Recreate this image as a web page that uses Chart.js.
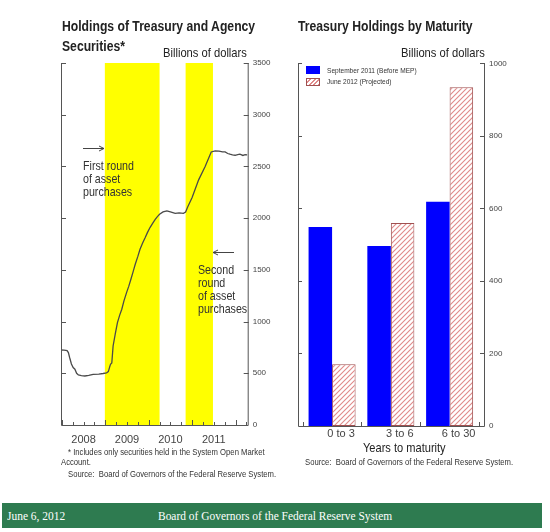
<!DOCTYPE html>
<html>
<head>
<meta charset="utf-8">
<script src="https://cdn.jsdelivr.net/npm/chart.js@4/dist/chart.umd.min.js"></script>
<style>
  html, body { margin:0; padding:0; background:#ffffff; }
  body { width:550px; height:532px; position:relative; overflow:hidden;
         font-family:"Liberation Sans",Arial,sans-serif; color:#222; }
  .abs { position:absolute; white-space:nowrap; }
  .nar { transform:scaleX(0.82); transform-origin:0 0; }
  .title { font-weight:bold; font-size:14px; line-height:16px; color:#222; transform:scaleX(0.87); transform-origin:0 0; }
  .unit { font-size:13px; line-height:14px; color:#222; transform:scaleX(0.86); transform-origin:0 0; }
  .note { font-size:13px; line-height:13px; color:#333; }
  .small { font-size:9.4px; line-height:11px; color:#333; }
  .leg { font-size:8px; line-height:9px; color:#333; }
  #c1wrap { position:absolute; left:0; top:0; width:280px; height:480px; }
  #c2wrap { position:absolute; left:280px; top:0; width:270px; height:480px; }
  #footer { position:absolute; left:2px; top:503px; width:540px; height:25px; background:#2e7b50;
            font-family:"Liberation Serif","Times New Roman",serif; color:#fff; font-size:13px; font-weight:normal; }
  #footer .abs { transform:scaleX(0.88); transform-origin:0 0; line-height:15px; }
</style>
</head>
<body>
<div id="c1wrap"><canvas id="c1"></canvas></div>
<div id="c2wrap"><canvas id="c2"></canvas></div>

<div class="abs title" style="left:62px;top:18px;">Holdings of Treasury and Agency</div>
<div class="abs title" style="left:62px;top:38px;">Securities*</div>
<div class="abs unit" style="left:163px;top:46px;">Billions of dollars</div>

<div class="abs title" style="left:298px;top:18px;">Treasury Holdings by Maturity</div>
<div class="abs unit" style="left:400.5px;top:46px;">Billions of dollars</div>

<div class="abs note nar" style="left:83px;top:159px;">First round<br>of asset<br>purchases</div>
<div class="abs note nar" style="left:198px;top:263px;">Second<br>round<br>of asset<br>purchases</div>

<svg class="abs" style="left:0;top:0;" width="550" height="480">
  <g stroke="#444" stroke-width="1" fill="none">
    <line x1="83" y1="148.5" x2="104" y2="148.5"/>
    <polyline points="99,146 104,148.5 99,151"/>
    <line x1="213" y1="252.5" x2="234" y2="252.5"/>
    <polyline points="218,250 213,252.5 218,255"/>
  </g>
</svg>

<div class="abs" style="left:306px;top:66px;width:14px;height:8px;background:#0000ff;"></div>
<div class="abs leg nar" style="left:326.5px;top:65.5px;">September 2011 (Before MEP)</div>
<div class="abs" style="left:306px;top:77.5px;width:12px;height:6px;border:1px solid #a05050;background:repeating-linear-gradient(135deg,#ffffff 0 2px,#e08a8a 2px 3.2px);"></div>
<div class="abs leg nar" style="left:326.5px;top:77px;">June 2012 (Projected)</div>

<div class="abs small nar" style="left:68px;top:445.5px;">* Includes only securities held in the System Open Market</div>
<div class="abs small nar" style="left:61px;top:456px;">Account.</div>
<div class="abs small nar" style="left:68px;top:468px;">Source:&nbsp; Board of Governors of the Federal Reserve System.</div>

<div class="abs nar" style="left:362.5px;top:440px;font-size:13.5px;line-height:16px;color:#222;">Years to maturity</div>
<div class="abs small nar" style="left:305px;top:456px;">Source:&nbsp; Board of Governors of the Federal Reserve System.</div>

<div id="footer">
  <span class="abs" style="left:5px;top:5px;">June 6, 2012</span>
  <span class="abs" style="left:156px;top:5px;">Board of Governors of the Federal Reserve System</span>
</div>

<script>
// ---------- DATA ----------
const years = [2007.98,2008.05,2008.12,2008.15,2008.18,2008.22,2008.26,2008.30,2008.34,2008.38,2008.45,2008.53,2008.62,2008.72,2008.85,2008.95,
  2009.03,2009.07,2009.10,2009.12,2009.15,2009.18,2009.23,2009.28,2009.33,2009.38,2009.43,2009.49,2009.54,2009.59,2009.64,2009.69,2009.75,2009.80,2009.86,2009.92,2009.97,
  2010.03,2010.09,2010.15,2010.20,2010.25,2010.33,2010.42,2010.50,2010.61,2010.70,2010.80,2010.85,2010.90,
  2011.00,2011.15,2011.30,2011.44,2011.53,2011.62,2011.70,2011.76,2011.82,2011.87,2011.93,2011.99,
  2012.05,2012.10,2012.17,2012.22,2012.27];
const holdings = [725,724,720,700,650,590,555,540,500,484,478,474,480,490,492,498,
  505,516,560,587,600,764,880,990,1060,1119,1200,1280,1340,1409,1480,1554,1630,1699,1760,1812,1860,
  1909,1950,1989,2015,2037,2060,2070,2060,2047,2050,2047,2060,2110,
  2200,2370,2500,2640,2650,2648,2640,2640,2625,2618,2612,2608,
  2615,2618,2606,2613,2611];
const purchaseStart = [2008.99, 2010.85];
const purchaseEnd = [2010.25, 2011.48];
const yearLabels = ['2008','2009','2010','2011'];

const maturities = ['0 to 3','3 to 6','6 to 30'];
const sep2011 = [549, 496, 618];
const jun2012 = [170, 560, 934];

// ---------- SETUP ----------
Chart.defaults.font.family = '"Liberation Sans",Arial,sans-serif';
Chart.defaults.animation = false;
const AX = '#555';

function hatch() {
  const c = document.createElement('canvas');
  c.width = 5; c.height = 5;
  const g = c.getContext('2d');
  g.fillStyle = '#ffffff'; g.fillRect(0,0,5,5);
  g.strokeStyle = '#e08a8a'; g.lineWidth = 1.1;
  g.beginPath();
  g.moveTo(-1,6); g.lineTo(6,-1);
  g.moveTo(-1,1); g.lineTo(1,-1);
  g.moveTo(4,6); g.lineTo(6,4);
  g.stroke();
  return g.createPattern(c,'repeat');
}

const leftPlugin = {
  id: 'leftFrame',
  beforeDatasetsDraw(chart) {
    const {ctx, chartArea:a, scales:{x}} = chart;
    ctx.save();
    ctx.fillStyle = '#ffff00';
    for (let i = 0; i < purchaseStart.length; i++) {
      const x0 = x.getPixelForValue(purchaseStart[i]);
      const x1 = x.getPixelForValue(purchaseEnd[i]);
      ctx.fillRect(x0, a.top, x1 - x0, a.bottom - a.top);
    }
    ctx.restore();
  },
  afterDatasetsDraw(chart) {
    const {ctx, chartArea:a, scales:{x, y}} = chart;
    ctx.save();
    ctx.strokeStyle = AX; ctx.lineWidth = 1;
    ctx.beginPath();
    ctx.moveTo(a.left+0.5, a.top); ctx.lineTo(a.left+0.5, a.bottom+0.5);
    ctx.lineTo(a.right+0.5, a.bottom+0.5); ctx.lineTo(a.right+0.5, a.top);
    for (let v = 500; v <= 3500; v += 500) {
      const py = Math.round(y.getPixelForValue(v)) + 0.5;
      ctx.moveTo(a.left, py); ctx.lineTo(a.left + 5, py);
      ctx.moveTo(a.right + 1, py); ctx.lineTo(a.right - 4, py);
    }
    for (let q = 2008; q <= 2012.26; q += 0.25) {
      const px = Math.round(x.getPixelForValue(q)) + 0.5;
      const len = (Math.abs(q - Math.round(q)) < 0.01) ? 5 : 3;
      ctx.moveTo(px, a.bottom); ctx.lineTo(px, a.bottom - len);
    }
    ctx.stroke();
    ctx.restore();
  }
};

new Chart(document.getElementById('c1'), {
  type: 'line',
  data: { datasets: [{
    data: years.map((t, i) => ({x: t, y: holdings[i]})),
    borderColor: '#4a4a4a', borderWidth: 1.3, pointRadius: 0, tension: 0, fill: false
  }]},
  options: {
    responsive: true, maintainAspectRatio: false,
    layout: { padding: { left: 61, top: 63, right: 0, bottom: 0 } },
    plugins: { legend: { display: false }, tooltip: { enabled: false } },
    scales: {
      x: {
        type: 'linear', min: 2007.98, max: 2012.28,
        afterBuildTicks: s => { s.ticks = yearLabels.map(l => ({ value: Number(l) + 0.5 })); },
        afterFit: s => { s.height = 55; },
        ticks: { callback: v => String(Math.floor(v)), font: { size: 11 }, color: '#444', padding: 8, maxRotation: 0, autoSkip: false },
        grid: { display: false, drawTicks: false }, border: { display: false }
      },
      y: {
        position: 'right', min: 0, max: 3500,
        afterFit: s => { s.width = 32.3; },
        ticks: { stepSize: 500, callback: v => String(v), font: { size: 8 }, color: '#444', padding: 5 },
        grid: { display: false, drawTicks: false }, border: { display: false }
      }
    }
  },
  plugins: [leftPlugin]
});

const rightPlugin = {
  id: 'rightFrame',
  afterDatasetsDraw(chart) {
    const {ctx, chartArea:a, scales:{x, y}} = chart;
    const L = a.left - 4.4, R = a.right + 5;
    ctx.save();
    ctx.strokeStyle = AX; ctx.lineWidth = 1;
    ctx.beginPath();
    ctx.moveTo(Math.round(L)+0.5, a.top); ctx.lineTo(Math.round(L)+0.5, a.bottom+0.5);
    ctx.lineTo(Math.round(R)+0.5, a.bottom+0.5); ctx.lineTo(Math.round(R)+0.5, a.top);
    for (let v = 200; v <= 1000; v += 200) {
      const py = Math.round(y.getPixelForValue(v)) + 0.5;
      ctx.moveTo(Math.round(L), py); ctx.lineTo(Math.round(L) + 4, py);
      ctx.moveTo(Math.round(R) + 1, py); ctx.lineTo(Math.round(R) - 4, py);
    }
    for (let i = 0; i <= maturities.length; i++) {
      const px = Math.round(x.getPixelForValue(i - 0.5)) + 0.5;
      ctx.moveTo(px, a.bottom); ctx.lineTo(px, a.bottom - 4);
    }
    ctx.stroke();
    ctx.restore();
  }
};

new Chart(document.getElementById('c2'), {
  type: 'bar',
  data: {
    labels: maturities,
    datasets: [
      { label: 'September 2011 (Before MEP)', data: sep2011, backgroundColor: '#0000ff', borderWidth: 0,
        categoryPercentage: 0.8, barPercentage: 1.0 },
      { label: 'June 2012 (Projected)', data: jun2012, backgroundColor: hatch(), borderColor: '#a05050',
        borderWidth: 1, borderSkipped: false, categoryPercentage: 0.8, barPercentage: 1.0 }
    ]
  },
  options: {
    responsive: true, maintainAspectRatio: false,
    layout: { padding: { left: 22.7, top: 63.3, right: 0, bottom: 0 } },
    plugins: { legend: { display: false }, tooltip: { enabled: false } },
    scales: {
      x: {
        afterFit: s => { s.height = 54; },
        ticks: { font: { size: 11 }, color: '#444', padding: 1, labelOffset: 9, maxRotation: 0 },
        grid: { display: false, drawTicks: false }, border: { display: false }
      },
      y: {
        position: 'right', min: 0, max: 1000,
        afterFit: s => { s.width = 71; },
        ticks: { stepSize: 200, callback: v => String(v), font: { size: 8 }, color: '#444', padding: 10 },
        grid: { display: false, drawTicks: false }, border: { display: false }
      }
    }
  },
  plugins: [rightPlugin]
});
</script>
</body>
</html>
